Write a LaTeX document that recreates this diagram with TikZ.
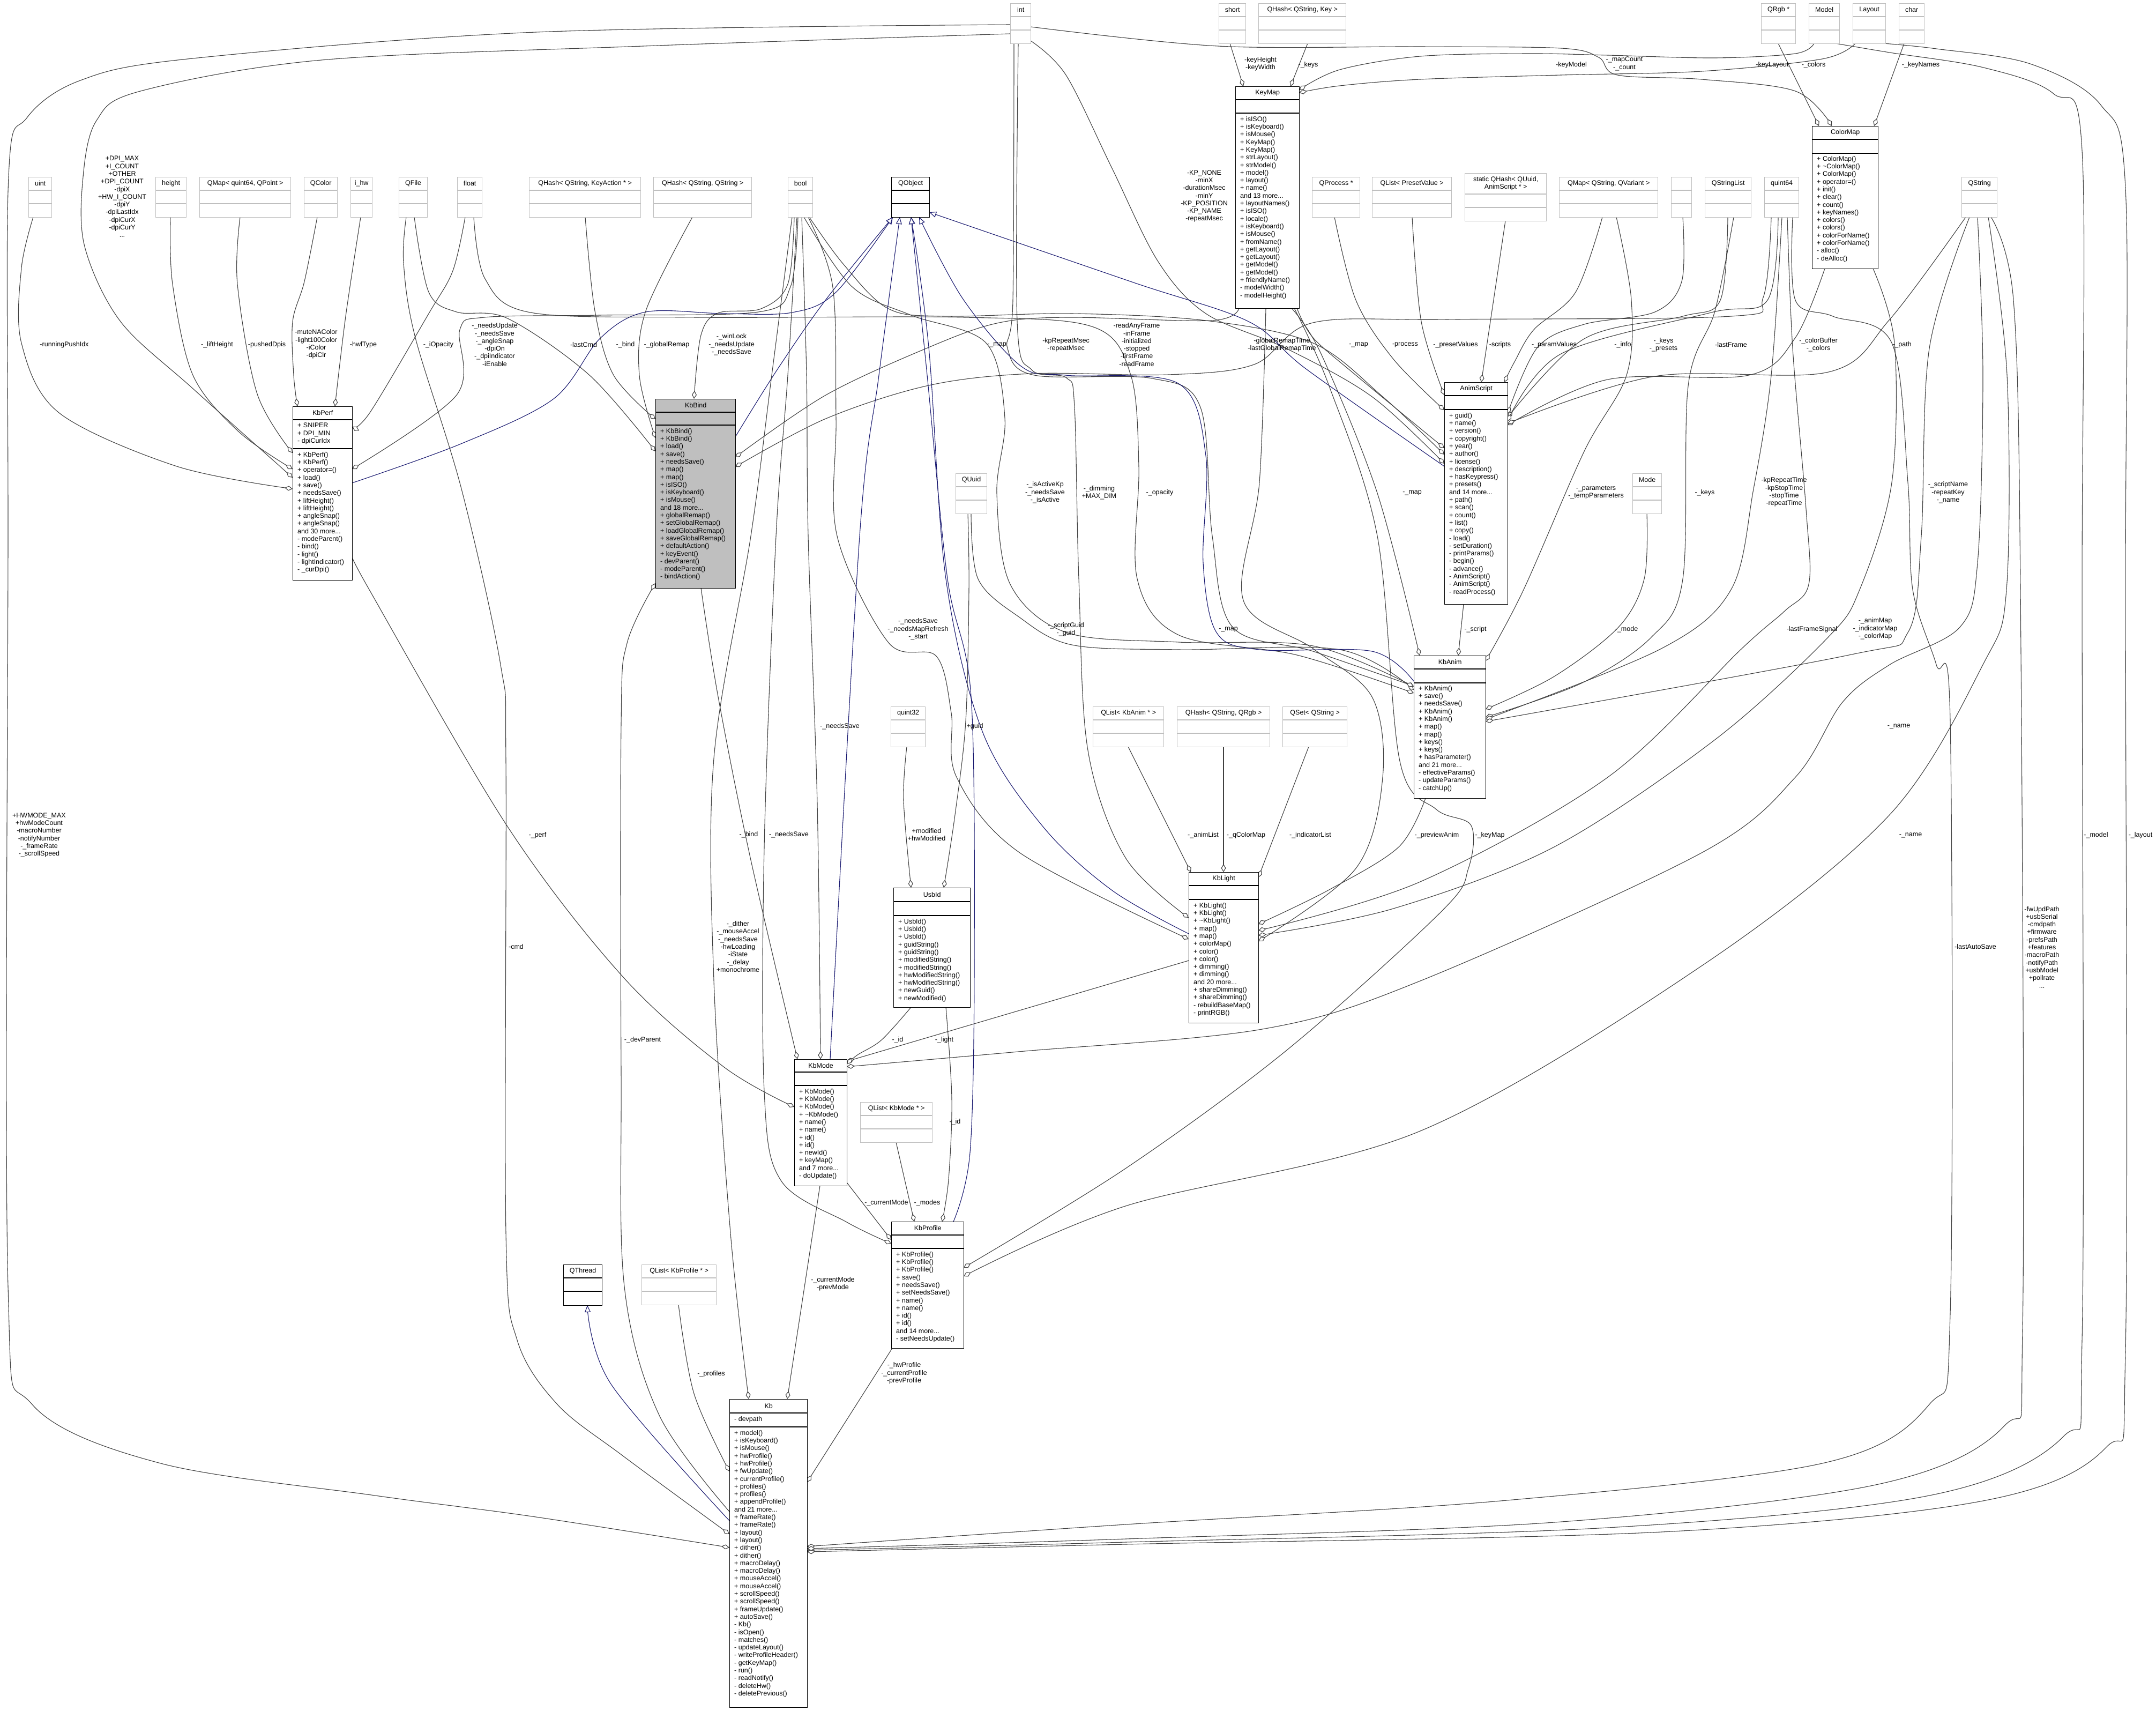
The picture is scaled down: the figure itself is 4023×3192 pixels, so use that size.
\documentclass[tikz,border=0pt]{standalone}
\usepackage{fontspec}
\setmainfont{Liberation Sans}
\usetikzlibrary{arrows.meta,calc}
\pgfdeclarelayer{back}
\pgfdeclarelayer{bg}
\pgfsetlayers{back,bg,main}
\definecolor{edgec}{HTML}{404040}
\definecolor{inhc}{HTML}{191970}
\definecolor{extc}{HTML}{BFBFBF}
\definecolor{selc}{HTML}{BFBFBF}
\newcommand{\dfont}{\fontsize{12.5}{14.3}\selectfont}
\newcommand{\cbox}[9][]{%
  \node[cls,#1,minimum width=#5pt,minimum height=#6pt,anchor=north west] (#2) at (#3,#4) {};
  \draw[black,line width=1.3pt] ([shift={(0,#7)}]#2.north west) -- ([shift={(0,#7)}]#2.north east);
  \draw[black,line width=1.3pt] ([shift={(0,#8)}]#2.north west) -- ([shift={(0,#8)}]#2.north east);
  \node[ttl] (#2-t) at ([shift={(0,#7/2)}]#2.north) {#9};}
\newcommand{\ebox}[5]{%
  \node[ext,minimum width=#4pt,minimum height=75pt,anchor=north west] (#1) at (#2,#3) {};
  \draw[extc,line width=1.3pt] ([shift={(0,25)}]#1.north west) -- ([shift={(0,25)}]#1.north east);
  \draw[extc,line width=1.3pt] ([shift={(0,50)}]#1.north west) -- ([shift={(0,50)}]#1.north east);
  \node[ttl] (#1-t) at ([shift={(0,12.5)}]#1.north) {#5};}
\begin{document}
\begin{tikzpicture}[x=1pt,y=-1pt,
  cls/.style={draw=black,fill=white,line width=1.3pt,inner sep=0pt,rectangle},
  ext/.style={draw=extc,fill=white,line width=1.3pt,inner sep=0pt,rectangle},
  ttl/.style={font=\dfont,inner sep=0pt},
  lst/.style={font=\dfont,align=left,anchor=north west,inner sep=0pt},
  lbl/.style={font=\dfont,align=center,inner sep=0pt},
  rel/.style={draw=edgec,line width=1.1pt,-{Diamond[length=15pt,width=9pt,fill=white]}},
  inh/.style={draw=inhc,line width=1.1pt,-{Triangle[length=13pt,width=11pt,fill=white]}}]
\begin{pgfonlayer}{back}
\fill[white] (0,0) rectangle (4023,3192);
\end{pgfonlayer}
\useasboundingbox (0,0) rectangle (4023,3192);

% ---------- external type boxes ----------
\ebox{int}{1885}{6}{38}{int}
\ebox{short}{2274}{6}{50}{short}
\ebox{qhkey}{2348}{6}{163}{QHash< QString, Key >}
\ebox{qrgb}{3286}{6}{64}{QRgb *}
\ebox{model}{3375}{6}{57}{Model}
\ebox{layout}{3457}{6}{61}{Layout}
\ebox{char}{3543}{6}{47}{char}
\ebox{uint}{53}{330}{43}{uint}
\ebox{height}{290}{330}{57}{height}
\ebox{qmapqp}{372}{330}{170}{QMap< quint64, QPoint >}
\ebox{qcolor}{567}{330}{62}{QColor}
\ebox{ihw}{654}{330}{40}{i\_hw}
\ebox{qfile}{744}{330}{53}{QFile}
\ebox{float}{853}{330}{46}{float}
\ebox{qhka}{987}{330}{208}{QHash< QString, KeyAction * >}
\ebox{qhss}{1219}{330}{183}{QHash< QString, QString >}
\ebox{bool}{1470}{330}{46}{bool}
\cbox{qobject}{1663}{330}{71}{75}{25}{50}{QObject}
\ebox{qprocess}{2448}{330}{89}{QProcess *}
\ebox{qlpv}{2560}{330}{148}{QList< PresetValue >}
\node[ext,minimum width=152pt,minimum height=89pt,anchor=north west] (qhstatic) at (2733,323) {};
\draw[extc,line width=1.3pt] ([shift={(0,39)}]qhstatic.north west) -- ([shift={(0,39)}]qhstatic.north east);
\draw[extc,line width=1.3pt] ([shift={(0,64)}]qhstatic.north west) -- ([shift={(0,64)}]qhstatic.north east);
\node[ttl,align=center] (qhstatic-t) at ([shift={(0,19.5)}]qhstatic.north) {static QHash< QUuid,\\AnimScript * >};
\ebox{qmapsv}{2909}{330}{184}{QMap< QString, QVariant >}
\ebox{empty}{3118}{330}{38}{}
\ebox{qsl}{3181}{330}{86}{QStringList}
\ebox{quint64}{3292}{330}{64}{quint64}
\ebox{qstring}{3660}{330}{66}{QString}
\ebox{quuid}{1783}{883}{58}{QUuid}
\ebox{mode}{3046}{883}{54}{Mode}
\ebox{quint32}{1662}{1318}{64}{quint32}
\ebox{qlanim}{2039}{1318}{132}{QList< KbAnim * >}
\ebox{qhrgb}{2196}{1318}{173}{QHash< QString, QRgb >}
\ebox{qset}{2393}{1318}{120}{QSet< QString >}
\ebox{qlmode}{1605}{2056}{134}{QList< KbMode * >}
\cbox{qthread}{1051}{2359}{72}{76}{25}{50}{QThread}
\ebox{qlprof}{1197}{2359}{139}{QList< KbProfile * >}

% ---------- class boxes ----------
\cbox{keymap}{2305}{161}{119}{414}{25}{50}{KeyMap}
\node[lst] (keymap-m) at ([shift={(9,56)}]keymap.north west) {+ isISO()\\+ isKeyboard()\\+ isMouse()\\+ KeyMap()\\+ KeyMap()\\+ strLayout()\\+ strModel()\\+ model()\\+ layout()\\+ name()\\and 13 more...\\+ layoutNames()\\+ isISO()\\+ locale()\\+ isKeyboard()\\+ isMouse()\\+ fromName()\\+ getLayout()\\+ getLayout()\\+ getModel()\\+ getModel()\\+ friendlyName()\\- modelWidth()\\- modelHeight()};

\cbox{colormap}{3381}{235}{123}{266}{25}{51}{ColorMap}
\node[lst] (colormap-m) at ([shift={(9,56)}]colormap.north west) {+ ColorMap()\\+ \textasciitilde ColorMap()\\+ ColorMap()\\+ operator=()\\+ init()\\+ clear()\\+ count()\\+ keyNames()\\+ colors()\\+ colors()\\+ colorForName()\\+ colorForName()\\- alloc()\\- deAlloc()};

\cbox{kbperf}{546}{758}{111}{324}{25}{79}{KbPerf}
\node[lst] (kbperf-a) at ([shift={(9,31)}]kbperf.north west) {+ SNIPER\\+ DPI\_MIN\\- dpiCurIdx};
\node[lst] (kbperf-m) at ([shift={(9,85)}]kbperf.north west) {+ KbPerf()\\+ KbPerf()\\+ operator=()\\+ load()\\+ save()\\+ needsSave()\\+ liftHeight()\\+ liftHeight()\\+ angleSnap()\\+ angleSnap()\\and 30 more...\\- modeParent()\\- bind()\\- light()\\- lightIndicator()\\- \_curDpi()};

\cbox[fill=selc]{kbbind}{1223}{744}{149}{353}{25}{49}{KbBind}
\node[lst] (kbbind-m) at ([shift={(9,55)}]kbbind.north west) {+ KbBind()\\+ KbBind()\\+ load()\\+ save()\\+ needsSave()\\+ map()\\+ map()\\+ isISO()\\+ isKeyboard()\\+ isMouse()\\and 18 more...\\+ globalRemap()\\+ setGlobalRemap()\\+ loadGlobalRemap()\\+ saveGlobalRemap()\\+ defaultAction()\\+ keyEvent()\\- devParent()\\- modeParent()\\- bindAction()};

\cbox{animscript}{2695}{713}{118}{414}{25}{51}{AnimScript}
\node[lst] (animscript-m) at ([shift={(9,57)}]animscript.north west) {+ guid()\\+ name()\\+ version()\\+ copyright()\\+ year()\\+ author()\\+ license()\\+ description()\\+ hasKeypress()\\+ presets()\\and 14 more...\\+ path()\\+ scan()\\+ count()\\+ list()\\+ copy()\\- load()\\- setDuration()\\- printParams()\\- begin()\\- advance()\\- AnimScript()\\- AnimScript()\\- readProcess()};

\cbox{kbanim}{2638}{1223}{134}{266}{25}{51}{KbAnim}
\node[lst] (kbanim-m) at ([shift={(9,56)}]kbanim.north west) {+ KbAnim()\\+ save()\\+ needsSave()\\+ KbAnim()\\+ KbAnim()\\+ map()\\+ map()\\+ keys()\\+ keys()\\+ hasParameter()\\and 21 more...\\- effectiveParams()\\- updateParams()\\- catchUp()};

\cbox{kblight}{2218}{1627}{130}{281}{25}{51}{KbLight}
\node[lst] (kblight-m) at ([shift={(9,57)}]kblight.north west) {+ KbLight()\\+ KbLight()\\+ \textasciitilde KbLight()\\+ map()\\+ map()\\+ colorMap()\\+ color()\\+ color()\\+ dimming()\\+ dimming()\\and 20 more...\\+ shareDimming()\\+ shareDimming()\\- rebuildBaseMap()\\- printRGB()};

\cbox{usbid}{1667}{1656}{143}{223}{26}{52}{UsbId}
\node[lst] (usbid-m) at ([shift={(9,58)}]usbid.north west) {+ UsbId()\\+ UsbId()\\+ UsbId()\\+ guidString()\\+ guidString()\\+ modifiedString()\\+ modifiedString()\\+ hwModifiedString()\\+ hwModifiedString()\\+ newGuid()\\+ newModified()};

\cbox{kbmode}{1482}{1976}{98}{236}{24}{49}{KbMode}
\node[lst] (kbmode-m) at ([shift={(9,55)}]kbmode.north west) {+ KbMode()\\+ KbMode()\\+ KbMode()\\+ \textasciitilde KbMode()\\+ name()\\+ name()\\+ id()\\+ id()\\+ newId()\\+ keyMap()\\and 7 more...\\- doUpdate()};

\cbox{kbprofile}{1663}{2279}{135}{236}{25}{50}{KbProfile}
\node[lst] (kbprofile-m) at ([shift={(9,56)}]kbprofile.north west) {+ KbProfile()\\+ KbProfile()\\+ KbProfile()\\+ save()\\+ needsSave()\\+ setNeedsSave()\\+ name()\\+ name()\\+ id()\\+ id()\\and 14 more...\\- setNeedsUpdate()};

\cbox{kb}{1361}{2610}{145}{575}{26}{52}{Kb}
\node[lst] (kb-a) at ([shift={(9,32)}]kb.north west) {- devpath};
\node[lst] (kb-m) at ([shift={(9,58)}]kb.north west) {+ model()\\+ isKeyboard()\\+ isMouse()\\+ hwProfile()\\+ hwProfile()\\+ fwUpdate()\\+ currentProfile()\\+ profiles()\\+ profiles()\\+ appendProfile()\\and 21 more...\\+ frameRate()\\+ frameRate()\\+ layout()\\+ layout()\\+ dither()\\+ dither()\\+ macroDelay()\\+ macroDelay()\\+ mouseAccel()\\+ mouseAccel()\\+ scrollSpeed()\\+ scrollSpeed()\\+ frameUpdate()\\+ autoSave()\\- Kb()\\- isOpen()\\- matches()\\- updateLayout()\\- writeProfileHeader()\\- getKeyMap()\\- run()\\- readNotify()\\- deleteHw()\\- deletePrevious()};

% ---------- connectors ----------
\begin{pgfonlayer}{bg}
% KbPerf
\draw[rel] plot[smooth,tension=.55] coordinates {([shift={(9,75)}]uint.north west) (40,500) (40,640) (110,770) (330,870) ([shift={(0,154)}]kbperf.north west)};
\draw[rel] plot[smooth,tension=.55] coordinates {([shift={(0,57)}]int.north west) (1200,86) (600,112) (262,170) (180,225) (155,330) (158,460) (225,600) (360,725) ([shift={(0,133)}]kbperf.north west)};
\draw[rel] plot[smooth,tension=.55] coordinates {([shift={(28,75)}]height.north west) (322,530) (360,700) (445,805) ([shift={(0,117)}]kbperf.north west)};
\draw[rel] plot[smooth,tension=.55] coordinates {([shift={(76,75)}]qmapqp.north west) (443,530) (480,735) ([shift={(0,87)}]kbperf.north west)};
\draw[rel] plot[smooth,tension=.55] coordinates {([shift={(25,75)}]qcolor.north west) (568,525) (546,600) (548,700) ([shift={(9,0)}]kbperf.north west)};
\draw[rel] plot[smooth,tension=.55] coordinates {([shift={(19,75)}]ihw.north west) (645,590) ([shift={(79,0)}]kbperf.north west)};
\draw[rel] plot[smooth,tension=.55] coordinates {([shift={(15,75)}]float.north west) (845,505) (800,585) (690,770) ([shift={(111,38)}]kbperf.north west)};
\draw[rel] plot[smooth,tension=.55] coordinates {([shift={(19,75)}]bool.north west) (1475,535) (1415,582) (1119,588) (904,592) (858,615) (852,737) ([shift={(111,117)}]kbperf.north west)};
\draw[inh] plot[smooth,tension=.55] coordinates {([shift={(111,143)}]kbperf.north west) (860,828) (1033,744) (1120,631) (1205,582) (1350,585) (1478,583) (1560,545) ([shift={(3,75)}]qobject.north west)};
% KbBind
\draw[rel] plot[smooth,tension=.55] coordinates {([shift={(29,75)}]qfile.north west) (800,545) (852,582) (947,594) (1100,700) ([shift={(0,98)}]kbbind.north west)};
\draw[rel] plot[smooth,tension=.55] coordinates {([shift={(105,75)}]qhka.north west) (1110,580) (1145,700) ([shift={(0,38)}]kbbind.north west)};
\draw[rel] plot[smooth,tension=.55] coordinates {([shift={(73,75)}]qhss.north west) (1205,580) (1193,700) ([shift={(0,73)}]kbbind.north west)};
\draw[rel] plot[smooth,tension=.55] coordinates {([shift={(12,75)}]bool.north west) (1470,530) (1420,576) (1340,584) (1308,625) ([shift={(72,0)}]kbbind.north west)};
\draw[inh] plot[smooth,tension=.55] coordinates {([shift={(149,71)}]kbbind.north west) (1450,690) (1541,559) ([shift={(3,75)}]qobject.north west)};
\draw[rel] plot[smooth,tension=.55] coordinates {([shift={(7,414)}]keymap.north west) (2260,598) (1990,592) (1860,603) (1733,648) (1541,737) ([shift={(149,109)}]kbbind.north west)};
\draw[rel] plot[smooth,tension=.55] coordinates {([shift={(13,75)}]quint64.north west) (3290,555) (3230,590) (2700,596) (2450,602) (2340,680) (2180,699) (1924,697) (1733,719) (1541,781) ([shift={(149,127)}]kbbind.north west)};
% AnimScript
\draw[rel] plot[smooth,tension=.55] coordinates {([shift={(38,70)}]int.north west) (1989,140) (2075,314) (2161,488) (2250,585) (2400,650) (2560,740) ([shift={(0,152)}]animscript.north west)};
\draw[rel] plot[smooth,tension=.55] coordinates {([shift={(40,75)}]bool.north west) (1573,492) (1656,575) (1760,590) (2000,585) (2250,598) (2450,640) (2580,740) ([shift={(0,135)}]animscript.north west)};
\draw[rel] plot[smooth,tension=.55] coordinates {([shift={(115,414)}]keymap.north west) (2450,630) (2530,700) ([shift={(0,123)}]animscript.north west)};
\draw[rel] plot[smooth,tension=.55] coordinates {([shift={(42,75)}]qprocess.north west) (2530,560) (2600,670) ([shift={(0,52)}]animscript.north west)};
\draw[rel] plot[smooth,tension=.55] coordinates {([shift={(75,75)}]qlpv.north west) (2652,600) ([shift={(0,24)}]animscript.north west)};
\draw[rel] ([shift={(76,89)}]qhstatic.north west) -- ([shift={(69,0)}]animscript.north west);
\draw[rel] plot[smooth,tension=.55] coordinates {([shift={(81,75)}]qmapsv.north west) (2940,545) (2862,615) (2826,675) ([shift={(112,0)}]animscript.north west)};
\draw[rel] plot[smooth,tension=.55] coordinates {([shift={(22,75)}]empty.north west) (3138,525) (3088,582) (2956,605) (2869,648) ([shift={(118,59)}]animscript.north west)};
\draw[rel] plot[smooth,tension=.55] coordinates {([shift={(43,75)}]qsl.north west) (3210,560) (3140,590) (2956,632) ([shift={(118,66)}]animscript.north west)};
\draw[rel] plot[smooth,tension=.55] coordinates {([shift={(26,75)}]quint64.north west) (3298,560) (3193,583) (2913,660) ([shift={(118,73)}]animscript.north west)};
\draw[rel] plot[smooth,tension=.55] coordinates {([shift={(24,266)}]colormap.north west) (3350,630) (3263,700) (3000,708) ([shift={(118,80)}]animscript.north west)};
\draw[rel] plot[smooth,tension=.55] coordinates {([shift={(8,75)}]qstring.north west) (3526,596) (3412,694) (3088,702) ([shift={(118,77)}]animscript.north west)};
\draw[inh] plot[smooth,tension=.55] coordinates {([shift={(0,157)}]animscript.north west) (2438,689) (2330,600) (2115,527) ([shift={(71,66)}]qobject.north west)};
% KbAnim
\draw[rel] ([shift={(36,414)}]animscript.north west) -- ([shift={(83,0)}]kbanim.north west);
\draw[rel] plot[smooth,tension=.55] coordinates {([shift={(105,414)}]keymap.north west) (2465,660) (2570,920) ([shift={(11,0)}]kbanim.north west)};
\draw[rel] plot[smooth,tension=.55] coordinates {([shift={(107,75)}]qmapsv.north west) (3044,560) (3035,700) (2956,842) (2843,1100) ([shift={(134,10)}]kbanim.north west)};
\draw[rel] plot[smooth,tension=.55] coordinates {([shift={(27,75)}]mode.north west) (3068,1080) (3020,1170) (2900,1262) ([shift={(134,100)}]kbanim.north west)};
\draw[rel] plot[smooth,tension=.55] coordinates {([shift={(54,75)}]qsl.north west) (3200,580) (3150,720) (3140,1080) (3080,1190) (2950,1275) ([shift={(134,115)}]kbanim.north west)};
\draw[rel] plot[smooth,tension=.55] coordinates {([shift={(33,75)}]quint64.north west) (3305,700) (3272,912) (3230,1100) (3100,1210) ([shift={(134,119)}]kbanim.north west)};
\draw[rel] plot[smooth,tension=.55] coordinates {([shift={(15,75)}]qstring.north west) (3600,650) (3585,1000) (3560,1180) (3450,1222) ([shift={(134,123)}]kbanim.north west)};
\draw[rel] plot[smooth,tension=.55] coordinates {([shift={(29,75)}]quuid.north west) (1825,1080) (1900,1150) (2000,1203) (2200,1212) (2500,1212) ([shift={(0,64)}]kbanim.north west)};
\draw[rel] plot[smooth,tension=.55] coordinates {([shift={(30,75)}]bool.north west) (1590,535) (1700,588) (1840,640) (1875,780) (1860,920) (1885,1090) (1990,1180) (2200,1198) (2450,1205) ([shift={(0,58)}]kbanim.north west)};
\draw[rel] plot[smooth,tension=.55] coordinates {([shift={(31,75)}]float.north west) (905,520) (990,583) (1300,592) (1800,592) (2040,610) (2110,700) (2125,870) (2122,1080) (2200,1185) (2420,1222) ([shift={(0,70)}]kbanim.north west)};
\draw[rel] plot[smooth,tension=.55] coordinates {([shift={(7,75)}]int.north west) (1890,560) (1880,650) (1930,700) (2150,706) (2240,760) (2262,1000) (2300,1170) (2450,1215) ([shift={(0,57)}]kbanim.north west)};
\draw[inh] plot[smooth,tension=.55] coordinates {([shift={(0,48)}]kbanim.north west) (2560,1215) (2350,1212) (2270,1180) (2245,1050) (2250,850) (2198,715) (1988,700) (1905,683) (1797,558) ([shift={(52,75)}]qobject.north west)};
% KbLight
\draw[rel] plot[smooth,tension=.55] coordinates {([shift={(22,266)}]kbanim.north west) (2610,1580) (2480,1660) ([shift={(130,97)}]kblight.north west)};
\draw[rel] ([shift={(66,75)}]qlanim.north west) -- ([shift={(4,0)}]kblight.north west);
\draw[rel] ([shift={(87,75)}]qhrgb.north west) -- ([shift={(65,0)}]kblight.north west);
\draw[rel] ([shift={(49,75)}]qset.north west) -- ([shift={(130,10)}]kblight.north west);
\draw[rel] plot[smooth,tension=.55] coordinates {([shift={(38,75)}]bool.north west) (1554,536) (1560,782) (1562,1000) (1658,1199) (1747,1224) (1775,1330) (1785,1450) (1903,1591) ([shift={(0,125)}]kblight.north west)};
\draw[rel] plot[smooth,tension=.55] coordinates {([shift={(15,75)}]int.north west) (1898,600) (1925,690) (1990,705) (2005,760) (2013,1080) (2030,1400) (2100,1600) ([shift={(0,85)}]kblight.north west)};
\draw[inh] plot[smooth,tension=.55] coordinates {([shift={(0,115)}]kblight.north west) (2075,1661) (1946,1542) (1834,1367) (1765,1080) (1733,648) ([shift={(37,75)}]qobject.north west)};
\draw[rel] plot[smooth,tension=.55] coordinates {([shift={(114,266)}]colormap.north west) (3535,640) (3530,900) (3470,1100) (3410,1190) (3200,1380) (2900,1580) (2600,1695) ([shift={(130,118)}]kblight.north west)};
\draw[rel] plot[smooth,tension=.55] coordinates {([shift={(43,75)}]quint64.north west) (3345,650) (3370,950) (3375,1090) (3330,1140) (3250,1210) (3000,1450) (2650,1645) ([shift={(130,109)}]kblight.north west)};
\draw[rel] plot[smooth,tension=.55] coordinates {([shift={(57,414)}]keymap.north west) (2350,900) (2320,1120) (2450,1210) (2560,1300) (2580,1450) (2530,1620) ([shift={(130,129)}]kblight.north west)};
% KbMode
\draw[rel] ([shift={(0,165)}]kblight.north west) -- ([shift={(98,4)}]kbmode.north west);
\draw[rel] plot[smooth,tension=.55] coordinates {([shift={(33,223)}]usbid.north west) (1645,1940) (1600,1968) ([shift={(98,9)}]kbmode.north west)};
\draw[rel] plot[smooth,tension=.55] coordinates {([shift={(30,75)}]qstring.north west) (3700,700) (3690,1050) (3657,1170) (3526,1240) (3438,1310) (3350,1450) (3175,1591) (2650,1830) (2355,1920) (1900,1962) ([shift={(98,14)}]kbmode.north west)};
\draw[rel] plot[smooth,tension=.55] coordinates {([shift={(111,277)}]kbperf.north west) (689,1100) (947,1542) (1162,1822) (1350,1990) ([shift={(0,89)}]kbmode.north west)};
\draw[rel] plot[smooth,tension=.55] coordinates {([shift={(85,353)}]kbbind.north west) (1340,1300) (1400,1600) ([shift={(6,0)}]kbmode.north west)};
\draw[rel] plot[smooth,tension=.55] coordinates {([shift={(26,75)}]bool.north west) (1505,700) (1508,1000) (1525,1500) ([shift={(49,0)}]kbmode.north west)};
\draw[inh] plot[smooth,tension=.55] coordinates {([shift={(67,0)}]kbmode.north west) (1604,1000) (1640,700) ([shift={(16,75)}]qobject.north west)};
% UsbId
\draw[rel] plot[smooth,tension=.55] coordinates {([shift={(23,75)}]quuid.north west) (1808,1100) (1802,1345) (1782,1520) ([shift={(94,0)}]usbid.north west)};
\draw[rel] plot[smooth,tension=.55] coordinates {([shift={(30,75)}]quint32.north west) (1686,1493) ([shift={(33,0)}]usbid.north west)};
% KbProfile
\draw[rel] plot[smooth,tension=.55] coordinates {([shift={(98,223)}]usbid.north west) (1776,2050) (1770,2200) ([shift={(95,0)}]kbprofile.north west)};
\draw[rel] ([shift={(98,230)}]kbmode.north west) -- ([shift={(0,34)}]kbprofile.north west);
\draw[rel] ([shift={(67,75)}]qlmode.north west) -- ([shift={(43,0)}]kbprofile.north west);
\draw[rel] plot[smooth,tension=.55] coordinates {([shift={(17,75)}]bool.north west) (1470,700) (1448,1000) (1426,1580) (1426,2036) (1457,2202) (1580,2280) ([shift={(0,41)}]kbprofile.north west)};
\draw[rel] plot[smooth,tension=.55] coordinates {([shift={(110,414)}]keymap.north west) (2480,720) (2570,1000) (2612,1420) (2680,1510) (2745,1540) (2740,1620) (2690,1700) (2400,1960) (2100,2180) ([shift={(135,86)}]kbprofile.north west)};
\draw[rel] plot[smooth,tension=.55] coordinates {([shift={(50,75)}]qstring.north west) (3745,700) (3744,1100) (3700,1240) (3525,1521) (3175,1802) (2650,2110) (2100,2250) ([shift={(135,102)}]kbprofile.north west)};
\draw[inh] plot[smooth,tension=.55] coordinates {([shift={(116,0)}]kbprofile.north west) (1810,2150) (1818,1800) (1812,1300) (1768,1080) (1730,700) ([shift={(37,75)}]qobject.north west)};
% Kb
\draw[rel] ([shift={(2,236)}]kbprofile.north west) -- ([shift={(145,155)}]kb.north west);
\draw[rel] ([shift={(48,236)}]kbmode.north west) -- ([shift={(108,0)}]kb.north west);
\draw[rel] plot[smooth,tension=.55] coordinates {([shift={(69,75)}]qlprof.north west) (1295,2600) ([shift={(0,135)}]kb.north west)};
\draw[inh] plot[smooth,tension=.55] coordinates {([shift={(0,227)}]kb.north west) (1140,2582) ([shift={(45,76)}]qthread.north west)};
\draw[rel] plot[smooth,tension=.55] coordinates {([shift={(8,75)}]bool.north west) (1440,700) (1401,1000) (1332,1415) (1332,1829) (1363,2300) ([shift={(36,0)}]kb.north west)};
\draw[rel] plot[smooth,tension=.55] coordinates {([shift={(0,210)}]kb.north west) (1230,2640) (1165,2400) (1159,2000) (1159,1350) (1170,1200) ([shift={(0,344)}]kbbind.north west)};
\draw[rel] plot[smooth,tension=.55] coordinates {([shift={(14,75)}]qfile.north west) (753,490) (775,630) (861,912) (934,1240) (944,1420) (944,2300) (965,2500) (1040,2620) (1161,2715) ([shift={(0,252)}]kb.north west)};
\draw[rel] plot[smooth,tension=.55] coordinates {([shift={(0,40)}]int.north west) (1000,60) (350,110) (150,150) (50,220) (16,330) (15,1000) (15,2400) (60,2620) (300,2730) (700,2790) (1000,2830) ([shift={(0,277)}]kb.north west)};
\draw[rel] plot[smooth,tension=.55] coordinates {([shift={(50,75)}]model.north west) (3526,98) (3701,126) (3832,175) (3885,281) (3885,1100) (3885,2500) (3850,2680) (3600,2790) (3000,2850) (2100,2877) ([shift={(145,282)}]kb.north west)};
\draw[rel] plot[smooth,tension=.55] coordinates {([shift={(58,75)}]layout.north west) (3613,91) (3788,119) (3920,196) (3966,351) (3966,1100) (3966,2520) (3930,2700) (3700,2800) (3100,2858) (2100,2881) ([shift={(145,285)}]kb.north west)};
\draw[rel] plot[smooth,tension=.55] coordinates {([shift={(53,75)}]quint64.north west) (3350,560) (3420,590) (3530,640) (3560,900) (3569,1100) (3613,1240) (3639,1345) (3639,2450) (3600,2620) (3400,2730) (2800,2800) (2100,2844) ([shift={(145,275)}]kb.north west)};
\draw[rel] plot[smooth,tension=.55] coordinates {([shift={(55,75)}]qstring.north west) (3757,560) (3770,1100) (3774,2480) (3740,2660) (3500,2770) (2900,2840) (2100,2871) ([shift={(145,279)}]kb.north west)};
% ColorMap, KeyMap
\draw[rel] ([shift={(32,75)}]qrgb.north west) -- ([shift={(13,0)}]colormap.north west);
\draw[rel] ([shift={(10,75)}]char.north west) -- ([shift={(116,0)}]colormap.north west);
\draw[rel] plot[smooth,tension=.55] coordinates {([shift={(38,44)}]int.north west) (2273,86) (2650,87) (2913,90) (2983,107) (3018,140) (3175,148) (3350,170) ([shift={(37,0)}]colormap.north west)};
\draw[rel] plot[smooth,tension=.55] coordinates {([shift={(10,75)}]model.north west) (3350,100) (3200,108) (3000,103) (2850,100) (2650,105) (2500,130) ([shift={(119,7)}]keymap.north west)};
\draw[rel] plot[smooth,tension=.55] coordinates {([shift={(5,75)}]layout.north west) (3400,110) (3175,133) (2913,140) (2650,148) (2500,160) ([shift={(119,12)}]keymap.north west)};
\draw[rel] ([shift={(21,75)}]short.north west) -- ([shift={(15,0)}]keymap.north west);
\draw[rel] ([shift={(92,75)}]qhkey.north west) -- ([shift={(103,0)}]keymap.north west);
\end{pgfonlayer}

% ---------- connector labels ----------
\node[lbl] (l1) at (120,643) {-runningPushIdx};
\node[lbl] (l2) at (228,367) {+DPI\_MAX\\+I\_COUNT\\+OTHER\\+DPI\_COUNT\\-dpiX\\+HW\_I\_COUNT\\-dpiY\\-dpiLastIdx\\-dpiCurX\\-dpiCurY\\...};
\node[lbl] (l3) at (405,643) {-\_liftHeight};
\node[lbl] (l4) at (498,643) {-pushedDpis};
\node[lbl] (l5) at (590,642) {-muteNAColor\\-light100Color\\-iColor\\-dpiClr};
\node[lbl] (l6) at (678,643) {-hwlType};
\node[lbl] (l7) at (818,643) {-\_iOpacity};
\node[lbl] (l8) at (923,643) {-\_needsUpdate\\-\_needsSave\\-\_angleSnap\\-dpiOn\\-\_dpiIndicator\\-iEnable};
\node[lbl] (l9) at (1089,643) {-lastCmd};
\node[lbl] (l10) at (1167,643) {-\_bind};
\node[lbl] (l11) at (1244,643) {-\_globalRemap};
\node[lbl] (l12) at (1365,643) {-\_winLock\\-\_needsUpdate\\-\_needsSave};
\node[lbl] (l13) at (1860,643) {-\_map};
\node[lbl] (l14) at (1989,643) {-kpRepeatMsec\\-repeatMsec};
\node[lbl] (l15) at (2121,643) {-readAnyFrame\\-inFrame\\-initialized\\-stopped\\-firstFrame\\-readFrame};
\node[lbl] (l16) at (2247,366) {-KP\_NONE\\-minX\\-durationMsec\\-minY\\-KP\_POSITION\\-KP\_NAME\\-repeatMsec};
\node[lbl] (l17) at (2352,119) {-keyHeight\\-keyWidth};
\node[lbl] (l18) at (2441,121) {-\_keys};
\node[lbl] (l19) at (2392,643) {-globalRemapTime\\-lastGlobalRemapTime};
\node[lbl] (l20) at (2535,643) {-\_map};
\node[lbl] (l21) at (2622,643) {-process};
\node[lbl] (l22) at (2716,643) {-\_presetValues};
\node[lbl] (l23) at (2799,643) {-scripts};
\node[lbl] (l24) at (2900,643) {-\_paramValues};
\node[lbl] (l25) at (3028,643) {-\_info};
\node[lbl] (l26) at (3104,643) {-\_keys\\-\_presets};
\node[lbl] (l27) at (3230,643) {-lastFrame};
\node[lbl] (l28) at (3393,643) {-\_colorBuffer\\-\_colors};
\node[lbl] (l29) at (3549,643) {-\_path};
\node[lbl] (l30) at (2932,121) {-keyModel};
\node[lbl] (l31) at (3031,119) {-\_mapCount\\-\_count};
\node[lbl] (l32) at (3307,121) {-keyLayout};
\node[lbl] (l33) at (3384,121) {-\_colors};
\node[lbl] (l34) at (3584,121) {-\_keyNames};
\node[lbl] (l35) at (1950,919) {-\_isActiveKp\\-\_needsSave\\-\_isActive};
\node[lbl] (l36) at (2051,919) {-\_dimming\\+MAX\_DIM};
\node[lbl] (l37) at (2164,919) {-\_opacity};
\node[lbl] (l38) at (2635,919) {-\_map};
\node[lbl] (l39) at (2978,919) {-\_parameters\\-\_tempParameters};
\node[lbl] (l40) at (3181,919) {-\_keys};
\node[lbl] (l41) at (3329,918) {-kpRepeatTime\\-kpStopTime\\-stopTime\\-repeatTime};
\node[lbl] (l42) at (3635,919) {-\_scriptName\\-repeatKey\\-\_name};
\node[lbl] (l43) at (1713,1174) {-\_needsSave\\-\_needsMapRefresh\\-\_start};
\node[lbl] (l44) at (1989,1174) {-\_scriptGuid\\-\_guid};
\node[lbl] (l45) at (2292,1174) {-\_map};
\node[lbl] (l46) at (2753,1174) {-\_script};
\node[lbl] (l47) at (3035,1174) {-\_mode};
\node[lbl] (l48) at (3381,1174) {-lastFrameSignal};
\node[lbl] (l49) at (3499,1173) {-\_animMap\\-\_indicatorMap\\-\_colorMap};
\node[lbl] (l50) at (1567,1355) {-\_needsSave};
\node[lbl] (l51) at (1819,1355) {+guid};
\node[lbl] (l52) at (3543,1355) {-\_name};
\node[lbl] (l53) at (1003,1558) {-\_perf};
\node[lbl] (l54) at (1397,1557) {-\_bind};
\node[lbl] (l55) at (1472,1557) {-\_needsSave};
\node[lbl] (l56) at (1729,1557) {+modified\\+hwModified};
\node[lbl] (l57) at (2245,1558) {-\_animList};
\node[lbl] (l58) at (2325,1558) {-\_qColorMap};
\node[lbl] (l59) at (2445,1558) {-\_indicatorList};
\node[lbl] (l60) at (2681,1558) {-\_previewAnim};
\node[lbl] (l61) at (2780,1558) {-\_keyMap};
\node[lbl] (l62) at (3565,1558) {-\_name};
\node[lbl] (l63) at (3911,1558) {-\_model};
\node[lbl] (l64) at (3994,1558) {-\_layout};
\node[lbl] (l65) at (73,1558) {+HWMODE\_MAX\\+hwModeCount\\-macroNumber\\-notifyNumber\\-\_frameRate\\-\_scrollSpeed};
\node[lbl] (l66) at (963,1766) {-cmd};
\node[lbl] (l67) at (1377,1766) {-\_dither\\-\_mouseAccel\\-\_needsSave\\-hwLoading\\-iState\\-\_delay\\+monochrome};
\node[lbl] (l68) at (3686,1766) {-lastAutoSave};
\node[lbl] (l69) at (3810,1767) {-fwUpdPath\\+usbSerial\\-cmdpath\\+firmware\\-prefsPath\\+features\\-macroPath\\-notifyPath\\+usbModel\\+pollrate\\...};
\node[lbl] (l70) at (1199,1940) {-\_devParent};
\node[lbl] (l71) at (1675,1940) {-\_id};
\node[lbl] (l72) at (1762,1940) {-\_light};
\node[lbl] (l73) at (1782,2093) {-\_id};
\node[lbl] (l74) at (1654,2244) {-\_currentMode};
\node[lbl] (l75) at (1730,2244) {-\_modes};
\node[lbl] (l76) at (1554,2395) {-\_currentMode\\-prevMode};
\node[lbl] (l77) at (1327,2563) {-\_profiles};
\node[lbl] (l78) at (1687,2562) {-\_hwProfile\\-\_currentProfile\\-prevProfile};
\end{tikzpicture}
\end{document}
